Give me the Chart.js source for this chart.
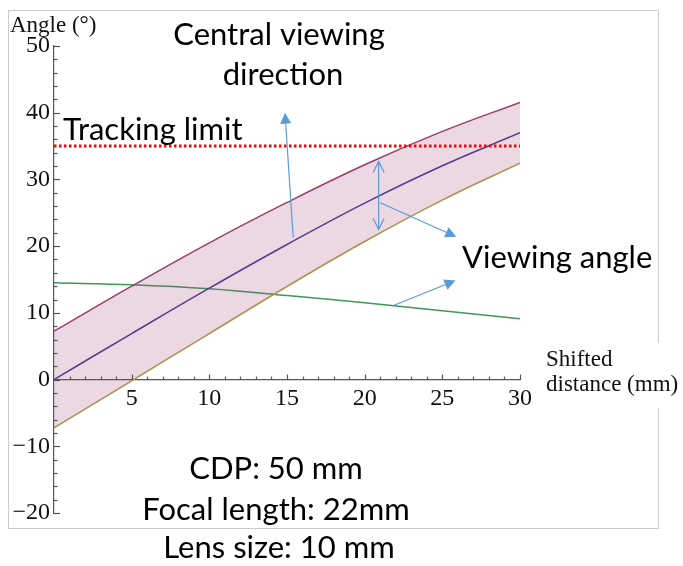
<!DOCTYPE html>
<html lang="en">
<head>
<meta charset="UTF-8">
<title>Viewing angle vs shifted distance</title>
<script src="https://cdn.jsdelivr.net/npm/chart.js"></script>
<style>
  html, body { margin: 0; padding: 0; background: #fff; }
  #wrap { width: 683px; height: 566px; }
</style>
</head>
<body>
<div id="wrap"><canvas id="myChart" width="683" height="566"></canvas></div>
<script>
// values (degrees vs shifted distance in mm)
const shiftMm = [0, 5, 10, 15, 20, 25, 30];
const centralDir = [0, 6.9, 13.7, 20.25, 26.45, 32.05, 37.0];
const upperEdge = [7.25, 14.0, 20.5, 26.55, 32.2, 37.2, 41.55];
const lowerEdge = [-7.25, -0.2, 6.9, 13.95, 20.7, 26.9, 32.45];
const viewAngle = [14.5, 14.2, 13.6, 12.6, 11.5, 10.3, 9.1];
const trackingLimit = 35;
const xRange = [0, 30];
const yRange = [-20, 50];

const toPts = (xs, ys) => xs.map((x, i) => ({ x: x, y: ys[i] }));
const fmtTick = v => v < 0 ? '\u2212' + Math.abs(v) : String(v);

const blue = '#5b9bd5';

// callout arrows, anchored in data units
const arrows = [
  { from: [15.4, 21.3], to: [14.87, 40.0], head: 'filled' },
  { from: [21.0, 26.5], to: [25.9, 21.4], head: 'filled' },
  { from: [21.85, 11.1], to: [25.85, 14.85], head: 'filled' }
];
const doubleArrow = { x: 20.9, y1: 32.7, y2: 22.5 };

function drawArrow(ctx, x1, y1, x2, y2, filled) {
  const a = Math.atan2(y2 - y1, x2 - x1);
  const len = 11, hw = 5.5;
  ctx.beginPath();
  ctx.moveTo(x1, y1);
  ctx.lineTo(x2 - Math.cos(a) * (filled ? len - 1 : 0), y2 - Math.sin(a) * (filled ? len - 1 : 0));
  ctx.stroke();
  const bx = x2 - Math.cos(a) * len, by = y2 - Math.sin(a) * len;
  const px = -Math.sin(a) * hw, py = Math.cos(a) * hw;
  ctx.beginPath();
  if (filled) {
    ctx.moveTo(x2, y2);
    ctx.lineTo(bx + px, by + py);
    ctx.lineTo(bx - px, by - py);
    ctx.closePath();
    ctx.fill();
  } else {
    ctx.moveTo(bx + px, by + py);
    ctx.lineTo(x2, y2);
    ctx.lineTo(bx - px, by - py);
    ctx.stroke();
  }
}

const extras = {
  id: 'extras',
  afterDraw(chart) {
    const { ctx } = chart;
    const x = chart.scales.x, y = chart.scales.y;
    ctx.save();

    // figure frame
    ctx.strokeStyle = '#cccccc';
    ctx.lineWidth = 1;
    ctx.beginPath();
    ctx.moveTo(658.5, 343); ctx.lineTo(658.5, 10.5); ctx.lineTo(8.5, 10.5);
    ctx.lineTo(8.5, 528.5); ctx.lineTo(658.5, 528.5); ctx.lineTo(658.5, 408);
    ctx.stroke();

    // tick marks drawn inward like the original
    ctx.strokeStyle = '#555';
    ctx.lineWidth = 1.2;
    const x0 = x.getPixelForValue(0);
    for (let v = yRange[0]; v <= yRange[1]; v += 2) {
      const py = Math.round(y.getPixelForValue(v)) + 0.5;
      const l = v % 10 === 0 ? 6 : 3.5;
      ctx.beginPath(); ctx.moveTo(x0, py); ctx.lineTo(x0 + l, py); ctx.stroke();
    }
    const y0 = y.getPixelForValue(0);
    for (let v = 1; v <= xRange[1]; v++) {
      const px = Math.round(x.getPixelForValue(v)) + 0.5;
      const l = v % 5 === 0 ? 5 : 3;
      ctx.beginPath(); ctx.moveTo(px, y0); ctx.lineTo(px, y0 - l); ctx.stroke();
    }

    // arrows
    ctx.strokeStyle = blue;
    ctx.fillStyle = blue;
    ctx.lineWidth = 1.2;
    arrows.forEach(a => {
      drawArrow(ctx, x.getPixelForValue(a.from[0]), y.getPixelForValue(a.from[1]),
        x.getPixelForValue(a.to[0]), y.getPixelForValue(a.to[1]), a.head === 'filled');
    });
    const dx = x.getPixelForValue(doubleArrow.x);
    const dy1 = y.getPixelForValue(doubleArrow.y1), dy2 = y.getPixelForValue(doubleArrow.y2);
    const mid = (dy1 + dy2) / 2;
    drawArrow(ctx, dx, mid, dx, dy1, false);
    drawArrow(ctx, dx, mid, dx, dy2, false);

    // axis titles
    ctx.fillStyle = '#111';
    ctx.font = '23px "Liberation Serif"';
    ctx.textAlign = 'left';
    ctx.textBaseline = 'alphabetic';
    ctx.fillText('Angle (\u00b0)', 10, 32);
    ctx.fillText('Shifted', 546, 366);
    ctx.fillText('distance (mm)', 546, 391);

    // callout texts
    ctx.fillStyle = '#000';
    ctx.font = '31px Lato';
    ctx.fillText('Tracking limit', 63, 140);
    ctx.fillText('Viewing angle', 462, 268);
    ctx.textAlign = 'center';
    ctx.fillText('Central viewing', 279, 45);
    ctx.fillText('direction', 283, 85);
    ctx.fillText('CDP: 50 mm', 276, 479);
    ctx.fillText('Focal length: 22mm', 276, 520);
    ctx.fillText('Lens size: 10 mm', 279, 558);
    ctx.restore();
  }
};

const lineBase = { pointRadius: 0, borderWidth: 1.5, tension: 0.4, fill: false };

new Chart(document.getElementById('myChart'), {
  type: 'line',
  data: {
    datasets: [
      Object.assign({}, lineBase, {
        label: 'Upper edge', data: toPts(shiftMm, upperEdge), borderColor: '#993d71',
        fill: { target: 1 }, backgroundColor: 'rgba(153, 61, 113, 0.2)'
      }),
      Object.assign({}, lineBase, { label: 'Lower edge', data: toPts(shiftMm, lowerEdge), borderColor: '#ad9b4a' }),
      Object.assign({}, lineBase, { label: 'Central viewing direction', data: toPts(shiftMm, centralDir), borderColor: '#3d3d99' }),
      Object.assign({}, lineBase, { label: 'Viewing angle', data: toPts(shiftMm, viewAngle), borderColor: '#3d9956' }),
      Object.assign({}, lineBase, {
        label: 'Tracking limit', order: -1, tension: 0,
        data: [{ x: xRange[0], y: trackingLimit }, { x: xRange[1], y: trackingLimit }],
        borderColor: '#ff0000', borderWidth: 3, borderDash: [2.5, 2.5], borderCapStyle: 'butt'
      })
    ]
  },
  options: {
    responsive: false,
    animation: false,
    devicePixelRatio: 1,
    layout: { padding: { left: 10, top: 46, right: 163, bottom: 53 } },
    plugins: { legend: { display: false }, tooltip: { enabled: false } },
    scales: {
      x: {
        type: 'linear', min: xRange[0], max: xRange[1], position: { y: 0 },
        grid: { drawOnChartArea: false, drawTicks: false },
        border: { display: true, color: '#555', width: 1.2 },
        ticks: {
          stepSize: 5, padding: 5, color: '#111', maxRotation: 0, autoSkip: false,
          font: { family: 'Liberation Serif', size: 24 },
          callback: v => v === 0 ? '' : fmtTick(v)
        },
        afterFit: s => { s.height = 0; }
      },
      y: {
        type: 'linear', min: yRange[0], max: yRange[1], position: 'left',
        grid: { drawOnChartArea: false, drawTicks: false },
        border: { display: true, color: '#555', width: 1.2 },
        ticks: {
          stepSize: 10, padding: 4, color: '#111',
          font: { family: 'Liberation Serif', size: 24 },
          callback: v => fmtTick(v)
        },
        afterFit: s => { s.width = 44; }
      }
    }
  },
  plugins: [extras]
});
</script>
</body>
</html>
